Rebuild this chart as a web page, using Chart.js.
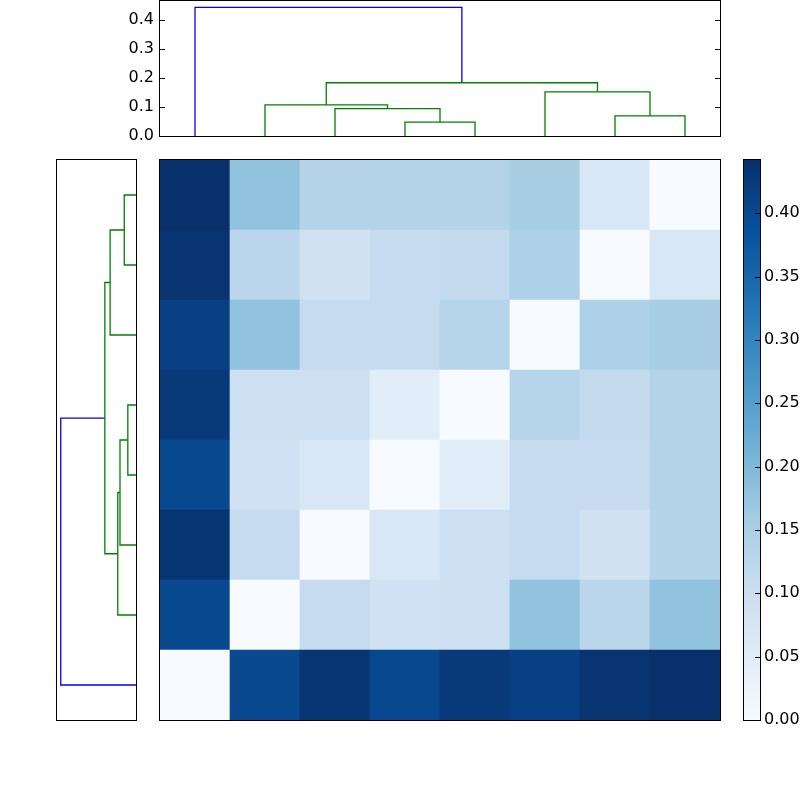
<!DOCTYPE html>
<html>
<head>
<meta charset="utf-8">
<script src="https://cdn.jsdelivr.net/npm/chart.js@4.4.1/dist/chart.umd.min.js"></script>
<style>
  html, body { margin: 0; padding: 0; background: #fff; }
  canvas { position: absolute; left: 0; top: 0; pointer-events: none; }
</style>
</head>
<body>
<canvas id="topTree" width="800" height="800"></canvas>
<canvas id="leftTree" width="800" height="800"></canvas>
<canvas id="heatmap" width="800" height="800"></canvas>
<canvas id="colorbar" width="800" height="800"></canvas>
<script>
// leaf order, shared by both trees and the matrix
const leaves = [0, 1, 2, 3, 4, 5, 6, 7];

// pairwise distances, row 0 is drawn at the bottom
const distances = [
    [0.000, 0.400, 0.433, 0.402, 0.425, 0.415, 0.435, 0.442],
    [0.400, 0.000, 0.110, 0.090, 0.094, 0.180, 0.126, 0.179],
    [0.433, 0.110, 0.000, 0.068, 0.094, 0.110, 0.087, 0.134],
    [0.402, 0.090, 0.068, 0.000, 0.048, 0.110, 0.111, 0.138],
    [0.425, 0.094, 0.094, 0.048, 0.000, 0.131, 0.113, 0.138],
    [0.415, 0.180, 0.110, 0.110, 0.131, 0.000, 0.143, 0.152],
    [0.435, 0.126, 0.087, 0.111, 0.113, 0.143, 0.000, 0.068],
    [0.442, 0.179, 0.134, 0.138, 0.138, 0.152, 0.068, 0.000],
];

// linkage rows: [child a, child b, height]; merge k becomes node 8 + k
const merges = [
    [3, 4, 0.048],
    [6, 7, 0.069],
    [2, 8, 0.094],
    [1, 10, 0.107],
    [5, 9, 0.152],
    [11, 12, 0.183],
    [0, 13, 0.442],
];
const mergeColors = ["g", "g", "g", "g", "g", "g", "b"];

const treeTicks = [0, 0.1, 0.2, 0.3, 0.4];
const barTicks = [0, 0.05, 0.1, 0.15, 0.2, 0.25, 0.3, 0.35, 0.4];

// matplotlib "Blues"
const bluesStops = ["#f7fbff", "#deebf7", "#c6dbef", "#9ecae1", "#6baed6",
                    "#4292c6", "#2171b5", "#08519c", "#08306b"];
const lineColors = { b: "#0000ff", g: "#008000" };
const font = { family: "DejaVu Sans", size: 16 };

const vmax = Math.max(...distances.flat());
const treeMax = merges[merges.length - 1][2] * 1.05;

function hexRgb(h) {
    return [1, 3, 5].map(i => parseInt(h.slice(i, i + 2), 16));
}
function blues(t) {
    t = Math.min(1, Math.max(0, t));
    const pos = t * (bluesStops.length - 1);
    const i = Math.min(Math.floor(pos), bluesStops.length - 2);
    const f = pos - i;
    const a = hexRgb(bluesStops[i]), b = hexRgb(bluesStops[i + 1]);
    const c = a.map((v, k) => Math.round(v + (b[k] - v) * f));
    return `rgb(${c[0]}, ${c[1]}, ${c[2]})`;
}

// leaf positions like scipy: 5, 15, 25 ...
const nodePos = leaves.map(l => l * 10 + 5);
const nodeHeight = leaves.map(() => 0);
const links = merges.map(([a, b, h], k) => {
    nodePos.push((nodePos[a] + nodePos[b]) / 2);
    nodeHeight.push(h);
    return {
        pos: [nodePos[a], nodePos[a], nodePos[b], nodePos[b]],
        height: [nodeHeight[a], h, h, nodeHeight[b]],
        color: lineColors[mergeColors[k]],
    };
});

// black box round the plot area
const framePlugin = {
    id: "frame",
    afterDraw(chart) {
        const { left, top, right, bottom } = chart.chartArea;
        const ctx = chart.ctx;
        ctx.save();
        ctx.strokeStyle = "#000";
        ctx.lineWidth = 1;
        ctx.strokeRect(Math.round(left) - 0.5, Math.round(top) - 0.5,
                       Math.round(right - left) + 1, Math.round(bottom - top) + 1);
        ctx.restore();
    },
};

// tick marks pointing into the plot area, classic matplotlib style
const innerTicksPlugin = {
    id: "innerTicks",
    afterDraw(chart, args, opts) {
        if (!opts.sides) return;
        const s = chart.scales.y;
        const { left, right } = chart.chartArea;
        const ctx = chart.ctx;
        ctx.save();
        ctx.strokeStyle = "#000";
        ctx.lineWidth = 1;
        s.ticks.forEach(t => {
            const y = Math.round(s.getPixelForValue(t.value)) + 0.5;
            ctx.beginPath();
            if (opts.sides.includes("left")) {
                ctx.moveTo(left, y);
                ctx.lineTo(left + opts.length, y);
            }
            if (opts.sides.includes("right")) {
                ctx.moveTo(right, y);
                ctx.lineTo(right - opts.length, y);
            }
            ctx.stroke();
        });
        ctx.restore();
    },
};

const common = {
    responsive: false,
    animation: false,
    events: [],
};
const quietPlugins = { legend: { display: false }, tooltip: { enabled: false } };

// top dendrogram
new Chart(document.getElementById("topTree"), {
    type: "scatter",
    data: {
        datasets: links.map(l => ({
            data: l.pos.map((p, i) => ({ x: p, y: l.height[i] })),
            showLine: true,
            borderColor: l.color,
            borderWidth: 1.3,
            pointRadius: 0,
            tension: 0,
        })),
    },
    options: {
        ...common,
        layout: { padding: { left: 100, right: 80, top: 1, bottom: 664 } },
        plugins: { ...quietPlugins, innerTicks: { sides: ["left", "right"], length: 5 } },
        scales: {
            x: { type: "linear", min: 0, max: 80, display: false },
            y: {
                type: "linear",
                position: "left",
                min: 0,
                max: treeMax,
                grid: { display: false, drawTicks: false },
                border: { display: false },
                ticks: { font, color: "#000", padding: 6, callback: v => v.toFixed(1) },
                afterBuildTicks: s => { s.ticks = treeTicks.map(v => ({ value: v })); },
                afterFit: s => { s.width = 60; s.paddingTop = 0; s.paddingBottom = 0; },
            },
        },
    },
    plugins: [framePlugin, innerTicksPlugin],
});

// left dendrogram, heights grow to the left
new Chart(document.getElementById("leftTree"), {
    type: "scatter",
    data: {
        datasets: links.map(l => ({
            data: l.pos.map((p, i) => ({ x: l.height[i], y: p })),
            showLine: true,
            borderColor: l.color,
            borderWidth: 1.3,
            pointRadius: 0,
            tension: 0,
        })),
    },
    options: {
        ...common,
        layout: { padding: { left: 57, right: 664, top: 160, bottom: 80 } },
        plugins: quietPlugins,
        scales: {
            x: { type: "linear", min: 0, max: treeMax, reverse: true, display: false },
            y: { type: "linear", min: 0, max: 80, display: false },
        },
    },
    plugins: [framePlugin],
});

// distance matrix as floating bars, one dataset per row
new Chart(document.getElementById("heatmap"), {
    type: "bar",
    data: {
        labels: leaves.map(String),
        datasets: distances.map((row, i) => ({
            data: row.map(() => [i, i + 1]),
            backgroundColor: row.map(v => blues(v / vmax)),
            borderWidth: 0,
            grouped: false,
            barPercentage: 1,
            categoryPercentage: 1,
        })),
    },
    options: {
        ...common,
        layout: { padding: { left: 160, right: 80, top: 160, bottom: 80 } },
        plugins: quietPlugins,
        scales: {
            x: { display: false },
            y: { type: "linear", min: 0, max: leaves.length, display: false },
        },
    },
    plugins: [framePlugin],
});

// colour bar
new Chart(document.getElementById("colorbar"), {
    type: "bar",
    data: {
        labels: ["scale"],
        datasets: [{
            data: [[0, vmax]],
            backgroundColor: ctx => {
                const a = ctx.chart.chartArea;
                if (!a) return bluesStops[0];
                const g = ctx.chart.ctx.createLinearGradient(0, a.bottom, 0, a.top);
                bluesStops.forEach((c, i) => g.addColorStop(i / (bluesStops.length - 1), c));
                return g;
            },
            borderWidth: 0,
            barPercentage: 1,
            categoryPercentage: 1,
        }],
    },
    options: {
        ...common,
        layout: { padding: { left: 744, right: 0, top: 160, bottom: 80 } },
        plugins: { ...quietPlugins, innerTicks: { sides: ["right"], length: 5 } },
        scales: {
            x: { display: false },
            y: {
                type: "linear",
                position: "right",
                min: 0,
                max: vmax,
                grid: { display: false, drawTicks: false },
                border: { display: false },
                ticks: { font, color: "#000", padding: 4, callback: v => v.toFixed(2) },
                afterBuildTicks: s => { s.ticks = barTicks.map(v => ({ value: v })); },
                afterFit: s => { s.width = 40; s.paddingTop = 0; s.paddingBottom = 0; },
            },
        },
    },
    plugins: [framePlugin, innerTicksPlugin],
});
</script>
</body>
</html>
